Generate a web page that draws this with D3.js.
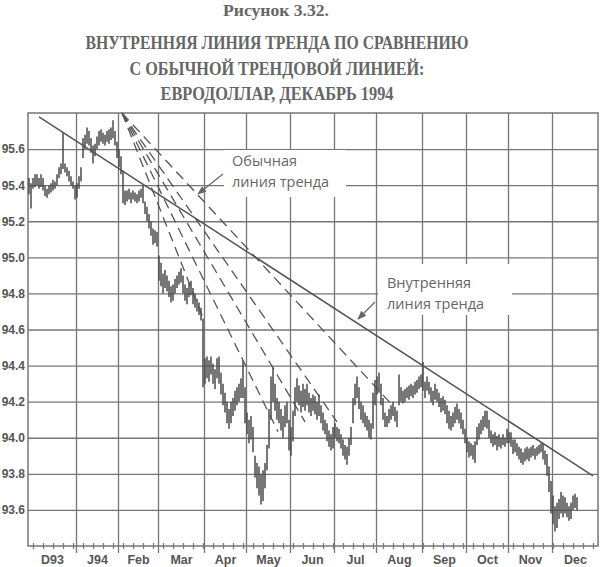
<!DOCTYPE html>
<html>
<head>
<meta charset="utf-8">
<script src="https://cdn.jsdelivr.net/npm/d3@7"></script>
<style>
  body { margin: 0; background: #fff; }
</style>
</head>
<body>
<div id="chart"></div>
<script>
// chart text
const figureLabel = "Рисунок 3.32.";
const titleLines = [
  "ВНУТРЕННЯЯ ЛИНИЯ ТРЕНДА ПО СРАВНЕНИЮ",
  "С ОБЫЧНОЙ ТРЕНДОВОЙ ЛИНИЕЙ:",
  "ЕВРОДОЛЛАР, ДЕКАБРЬ 1994"
];
const noteRegular = ["Обычная", "линия тренда"];
const noteInternal = ["Внутренняя", "линия тренда"];

// months on the x axis and how many trading days each one has on the chart
const monthLabels = ["D93", "J94", "Feb", "Mar", "Apr", "May", "Jun", "Jul", "Aug", "Sep", "Oct", "Nov", "Dec"];
const monthDays = [24, 21, 20, 23, 21, 22, 22, 21, 23, 22, 21, 22, 13];
const yTicks = [93.6, 93.8, 94.0, 94.2, 94.4, 94.6, 94.8, 95.0, 95.2, 95.4, 95.6];

// daily bars, one per trading day (Nov 30 1993 .. Dec 19 1994)
const lows = [
  // D93
  95.35, 95.27, 95.38, 95.39, 95.40, 95.38, 95.39, 95.37, 95.34, 95.33, 95.35, 95.36,
  95.37, 95.38, 95.40, 95.44, 95.46, 95.49, 95.47, 95.45, 95.42, 95.40, 95.38, 95.32,
  // J94
  95.33, 95.38, 95.42, 95.55, 95.60, 95.63, 95.62, 95.58, 95.52, 95.56, 95.60, 95.62,
  95.64, 95.63, 95.62, 95.64, 95.63, 95.65, 95.66, 95.62, 95.55,
  // Feb
  95.50, 95.46, 95.30, 95.29, 95.31, 95.32, 95.30, 95.32, 95.31, 95.30, 95.31, 95.33,
  95.30, 95.24, 95.20, 95.16, 95.12, 95.07, 95.08, 95.06,
  // Mar
  94.87, 94.84, 94.80, 94.83, 94.81, 94.78, 94.75, 94.76, 94.80, 94.83, 94.85, 94.86,
  94.80, 94.76, 94.74, 94.78, 94.79, 94.74, 94.72, 94.70, 94.68, 94.65, 94.28,
  // Apr
  94.30, 94.33, 94.31, 94.35, 94.30, 94.27, 94.33, 94.30, 94.24, 94.18, 94.14, 94.08,
  94.05, 94.08, 94.12, 94.15, 94.18, 94.20, 94.22, 94.22, 94.08,
  // May
  94.02, 93.97, 93.99, 93.92, 93.78, 93.72, 93.68, 93.63, 93.65, 93.72, 93.82, 93.94,
  94.10, 94.20, 94.15, 94.10, 94.08, 94.04, 94.00, 94.06, 94.08, 93.93,
  // Jun
  93.90, 93.98, 94.12, 94.20, 94.18, 94.14, 94.17, 94.15, 94.18, 94.14, 94.12, 94.15,
  94.13, 94.10, 94.12, 94.08, 94.04, 94.02, 93.98, 93.95, 93.93, 93.94,
  // Jul
  94.00, 93.98, 93.97, 93.94, 93.90, 93.88, 93.85, 93.90, 93.96, 94.08, 94.18, 94.22,
  94.16, 94.10, 94.08, 94.06, 94.04, 94.00, 93.99, 94.05, 94.18,
  // Aug
  94.24, 94.25, 94.18, 94.10, 94.06, 94.06, 94.08, 94.10, 94.12, 94.09, 94.06, 94.18,
  94.20, 94.19, 94.20, 94.22, 94.21, 94.23, 94.22, 94.24, 94.25, 94.27, 94.28,
  // Sep
  94.26, 94.22, 94.26, 94.24, 94.20, 94.18, 94.21, 94.20, 94.17, 94.14, 94.15, 94.13,
  94.08, 94.05, 94.04, 94.06, 94.08, 94.10, 94.08, 94.05, 94.02, 93.97,
  // Oct
  93.92, 93.89, 93.90, 93.88, 93.86, 93.96, 93.99, 94.02, 94.04, 94.06, 94.05, 94.00,
  93.97, 93.95, 93.96, 93.93, 93.95, 93.94, 93.96, 93.95, 93.97,
  // Nov
  93.97, 93.95, 93.91, 93.92, 93.90, 93.88, 93.86, 93.85, 93.87, 93.88, 93.87, 93.89,
  93.90, 93.88, 93.90, 93.91, 93.92, 93.88, 93.85, 93.79, 93.70, 93.58,
  // Dec
  93.52, 93.48, 93.50, 93.55, 93.58, 93.56, 93.58, 93.56, 93.54, 93.55, 93.60, 93.61, 93.60
];
const highs = [
  // D93
  95.44, 95.41, 95.44, 95.46, 95.46, 95.44, 95.46, 95.44, 95.40, 95.38, 95.40, 95.41,
  95.43, 95.42, 95.46, 95.50, 95.52, 95.69, 95.52, 95.50, 95.48, 95.45, 95.42, 95.40,
  // J94
  95.41, 95.45, 95.50, 95.66, 95.68, 95.72, 95.70, 95.66, 95.62, 95.63, 95.67, 95.70,
  95.71, 95.69, 95.68, 95.70, 95.71, 95.72, 95.76, 95.70, 95.64,
  // Feb
  95.60, 95.56, 95.48, 95.37, 95.37, 95.38, 95.36, 95.37, 95.36, 95.35, 95.37, 95.38,
  95.40, 95.31, 95.28, 95.24, 95.20, 95.16, 95.15, 95.14,
  // Mar
  95.01, 94.97, 94.91, 94.93, 94.90, 94.87, 94.84, 94.85, 94.88, 94.90, 94.92, 94.94,
  94.90, 94.85, 94.83, 94.86, 94.87, 94.83, 94.80, 94.77, 94.75, 94.72, 94.66,
  // Apr
  94.44, 94.45, 94.43, 94.45, 94.41, 94.38, 94.44, 94.45, 94.36, 94.30, 94.25, 94.20,
  94.16, 94.20, 94.22, 94.26, 94.28, 94.30, 94.33, 94.43, 94.28,
  // May
  94.14, 94.10, 94.12, 94.06, 93.90, 93.86, 93.84, 93.80, 93.82, 93.86, 93.96, 94.16,
  94.34, 94.39, 94.30, 94.22, 94.20, 94.16, 94.12, 94.18, 94.20, 94.10,
  // Jun
  94.06, 94.15, 94.28, 94.33, 94.29, 94.26, 94.30, 94.27, 94.30, 94.25, 94.22, 94.24,
  94.23, 94.20, 94.24, 94.18, 94.14, 94.10, 94.08, 94.04, 94.02, 94.06,
  // Jul
  94.08, 94.06, 94.05, 94.02, 93.99, 93.96, 93.95, 94.00, 94.06, 94.22, 94.30, 94.34,
  94.28, 94.20, 94.18, 94.14, 94.12, 94.10, 94.08, 94.25, 94.32,
  // Aug
  94.34, 94.36, 94.30, 94.22, 94.14, 94.12, 94.16, 94.18, 94.20, 94.17, 94.15, 94.35,
  94.28, 94.26, 94.27, 94.28, 94.29, 94.30, 94.29, 94.31, 94.32, 94.34, 94.35,
  // Sep
  94.42, 94.31, 94.34, 94.31, 94.28, 94.26, 94.30, 94.27, 94.25, 94.22, 94.23, 94.21,
  94.18, 94.15, 94.12, 94.14, 94.17, 94.19, 94.16, 94.14, 94.10, 94.05,
  // Oct
  94.00, 93.98, 93.97, 93.96, 93.98, 94.06, 94.08, 94.10, 94.12, 94.15, 94.15, 94.10,
  94.04, 94.02, 94.03, 94.01, 94.02, 94.00, 94.02, 94.00, 94.05,
  // Nov
  94.03, 94.03, 93.99, 93.99, 93.97, 93.95, 93.94, 93.92, 93.94, 93.95, 93.94, 93.95,
  93.96, 93.94, 93.95, 93.96, 93.97, 93.97, 93.93, 93.91, 93.84, 93.76,
  // Dec
  93.68, 93.62, 93.64, 93.66, 93.70, 93.68, 93.67, 93.64, 93.62, 93.64, 93.68, 93.69, 93.67
];

// trend lines as [trading day index, price]
const regularTrend = [[5.5, 95.778], [282.5, 93.789]];
const fanApex = [47, 95.80];
const fanEnds = [[87.5, 94.664], [125, 94.033], [138.5, 94.088], [154.5, 94.088], [182.5, 94.177]];

// svg setup
const width = 600, height = 567;
const margin = {top: 113, right: 2, bottom: 21, left: 28};
const ink = "#555", gridColor = "#767676";

const svg = d3.select("#chart").append("svg")
  .attr("width", width)
  .attr("height", height)
  .style("background-color", "#fff");

const nDays = 285;
const x = d3.scaleLinear().domain([0, nDays]).range([margin.left, width - margin.right]);
const y = d3.scaleLinear().domain([93.4, 95.8]).range([height - margin.bottom, margin.top]);

// month boundaries (cumulative trading days)
const monthStarts = [];
let acc = 0;
monthDays.forEach(function(n) { monthStarts.push(acc); acc += n; });
const monthMids = monthStarts.map(function(s, i) {
  const end = i < monthStarts.length - 1 ? monthStarts[i + 1] : nDays;
  return (s + end) / 2;
});

// title (widths squeezed to the printed ones)
const titleWidths = [383, 295, 233];
const title = svg.append("g")
  .attr("font-family", "'Liberation Serif', serif")
  .attr("font-weight", "bold")
  .attr("fill", "#666")
  .attr("text-anchor", "middle");
title.append("text").attr("x", 276).attr("y", 16).attr("font-size", 16.5)
  .attr("textLength", 106).attr("lengthAdjust", "spacingAndGlyphs")
  .text(figureLabel);
title.selectAll("text.line").data(titleLines).join("text")
  .attr("class", "line")
  .attr("x", 277)
  .attr("y", function(d, i) { return 49 + i * 25.5; })
  .attr("font-size", 18)
  .attr("textLength", function(d, i) { return titleWidths[i]; })
  .attr("lengthAdjust", "spacingAndGlyphs")
  .text(function(d) { return d; });

// horizontal grid + y labels
const yAxis = svg.append("g")
  .attr("transform", "translate(" + margin.left + ",0)")
  .call(d3.axisLeft(y).tickValues(yTicks).tickSize(-(width - margin.left - margin.right))
    .tickPadding(3).tickFormat(d3.format(".1f")));
yAxis.select(".domain").remove();
yAxis.selectAll("line").attr("stroke", gridColor).attr("stroke-width", 1.3);
yAxis.selectAll("text")
  .attr("font-family", "'Liberation Sans', Arial, sans-serif")
  .attr("font-weight", "bold")
  .attr("font-size", 12)
  .attr("fill", ink);

// vertical month grid, running a bit below the frame
const gridBottom = height - margin.bottom + 7;
const xGrid = svg.append("g")
  .attr("transform", "translate(0," + gridBottom + ")")
  .call(d3.axisBottom(x).tickValues(monthStarts.slice(1)).tickSize(-(gridBottom - margin.top)).tickFormat(""));
xGrid.select(".domain").remove();
xGrid.selectAll("line").attr("stroke", gridColor).attr("stroke-width", 1.3);

// weekly ticks on the bottom edge
const weekTicks = d3.range(2.5, nDays, 5);
const xWeek = svg.append("g")
  .attr("transform", "translate(0," + (height - margin.bottom + 3) + ")")
  .call(d3.axisBottom(x).tickValues(weekTicks).tickSize(-6).tickFormat(""));
xWeek.select(".domain").remove();
xWeek.selectAll("line").attr("stroke", gridColor).attr("stroke-width", 1.2);

// month labels
const xLab = svg.append("g")
  .attr("transform", "translate(0," + (height - margin.bottom) + ")")
  .call(d3.axisBottom(x).tickValues(monthMids).tickSize(0).tickPadding(9)
    .tickFormat(function(d, i) { return monthLabels[i]; }));
xLab.select(".domain").remove();
xLab.selectAll("text")
  .attr("font-family", "'Liberation Sans', Arial, sans-serif")
  .attr("font-weight", "bold")
  .attr("font-size", 12.5)
  .attr("fill", ink);

// frame
svg.append("rect")
  .attr("x", x(0)).attr("y", y(95.8))
  .attr("width", x(nDays) - x(0)).attr("height", y(93.4) - y(95.8))
  .attr("fill", "none").attr("stroke", gridColor).attr("stroke-width", 1.5);

// white boxes behind the notes
svg.append("rect").attr("x", 224).attr("y", 150).attr("width", 122).attr("height", 47).attr("fill", "#fff");
svg.append("rect").attr("x", 378).attr("y", 264).attr("width", 134).attr("height", 51).attr("fill", "#fff");

// price bars
svg.append("g").selectAll("line").data(lows).join("line")
  .attr("x1", function(d, i) { return x(i + 0.5); })
  .attr("x2", function(d, i) { return x(i + 0.5); })
  .attr("y1", function(d) { return y(d); })
  .attr("y2", function(d, i) { return y(highs[i]); })
  .attr("stroke", "#4a4a4a")
  .attr("stroke-width", 1.5);

const lineGen = d3.line()
  .x(function(d) { return x(d[0]); })
  .y(function(d) { return y(d[1]); });

// regular trend line
svg.append("path")
  .datum(regularTrend)
  .attr("d", lineGen)
  .attr("fill", "none")
  .attr("stroke", ink)
  .attr("stroke-width", 1.5);

// internal trend lines (dashed fan)
svg.append("g").selectAll("path").data(fanEnds).join("path")
  .attr("d", function(d) { return lineGen([fanApex, d]); })
  .attr("fill", "none")
  .attr("stroke", ink)
  .attr("stroke-width", 1.3)
  .attr("stroke-dasharray", "10,6");

// notes
function note(lines, px, py) {
  svg.append("g").selectAll("text").data(lines).join("text")
    .attr("x", px)
    .attr("y", function(d, i) { return py + i * 21; })
    .attr("font-family", "'Open Sans', sans-serif")
    .attr("font-size", 14.5)
    .attr("fill", "#666")
    .text(function(d) { return d; });
}
note(noteRegular, 232, 166);
note(noteInternal, 387, 288);

// arrows
svg.append("defs").append("marker")
  .attr("id", "arrow")
  .attr("viewBox", "0 0 10 10")
  .attr("refX", 9).attr("refY", 5)
  .attr("markerWidth", 7).attr("markerHeight", 7)
  .attr("orient", "auto")
  .append("path").attr("d", "M0,1 L10,5 L0,9 Z").attr("fill", "#666");

[[223, 174, 198, 194], [375, 302, 358, 319]].forEach(function(a) {
  svg.append("line")
    .attr("x1", a[0]).attr("y1", a[1]).attr("x2", a[2]).attr("y2", a[3])
    .attr("stroke", "#666").attr("stroke-width", 1.3)
    .attr("marker-end", "url(#arrow)");
});
</script>
</body>
</html>
